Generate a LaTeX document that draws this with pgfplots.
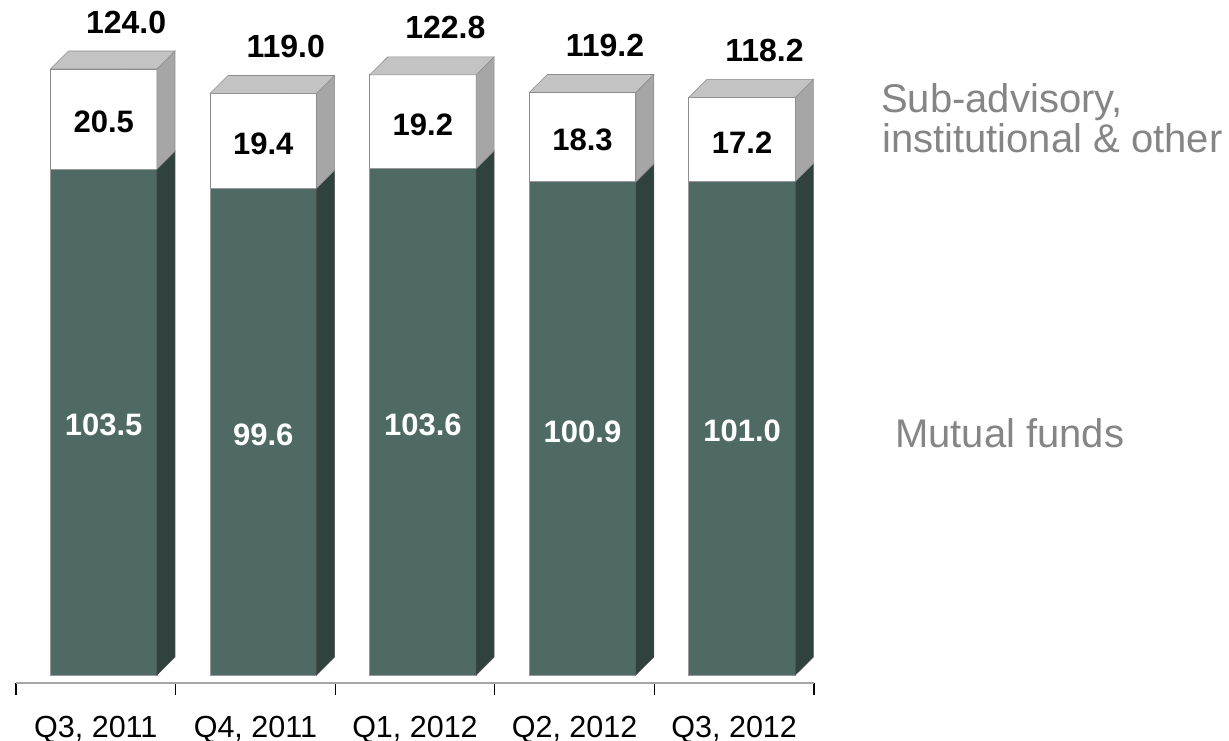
\documentclass[border=0pt]{standalone}
\usepackage{pgfplots}
\pgfplotsset{compat=1.18}
\usepackage{pgfplotstable}
\usepackage{fontspec}
\setmainfont{Liberation Sans}

\definecolor{frontgreen}{RGB}{79,106,100}
\definecolor{sidegreen}{RGB}{48,66,62}
\definecolor{topgray}{RGB}{195,195,195}
\definecolor{sidegray}{RGB}{166,166,166}
\definecolor{legendgray}{RGB}{133,133,133}

% assets under management, mutual funds (m) and sub-advisory etc. (s)
\pgfplotstableread{
x m s t
0 103.5 20.5 124.0
1 99.6 19.4 119.0
2 103.6 19.2 122.8
3 100.9 18.3 119.2
4 101.0 17.2 118.2
}\aum

\begin{document}
\begin{tikzpicture}
\begin{axis}[
  at={(16bp,58bp)}, anchor=south west,
  scale only axis, width=798bp, height=682.9bp,
  xmin=-0.5, xmax=4.5, ymin=-1.64, ymax=138.1,
  axis x line*=bottom, axis y line=none,
  axis line style={draw=black!35, line width=2bp},
  xtick={0,...,4},
  xticklabels={{Q3, 2011},{Q4, 2011},{Q1, 2012},{Q2, 2012},{Q3, 2012}},
  minor xtick={-0.5,0.5,...,4.5},
  xtick align=outside,
  major tick length=0pt, minor tick length=12bp,
  minor tick style={black, line width=1.3bp},
  xticklabel style={font=\fontsize{30.5bp}{36bp}\selectfont, anchor=base, yshift=-54bp, inner sep=0pt},
  ytick=\empty,
  clip=false,
]
% front faces
\addplot[ybar, bar width=0.667, bar shift=0.0495, fill=white, draw=black!45, line width=0.8bp] table[x=x, y=t] {\aum};
\addplot[ybar, bar width=0.667, bar shift=0.0495, fill=frontgreen, draw=black!40, line width=0.8bp] table[x=x, y=m] {\aum};

% side and top faces
\pgfplotsinvokeforeach{0,...,4}{
  \pgfplotstablegetelem{#1}{m}\of\aum \let\vm=\pgfplotsretval
  \pgfplotstablegetelem{#1}{t}\of\aum \let\vt=\pgfplotsretval
  \pgfmathsetmacro\xa{#1+0.383}
  \pgfmathsetmacro\xb{#1+0.496}
  \pgfmathsetmacro\xl{#1-0.284}
  \pgfmathsetmacro\xs{#1-0.171}
  \pgfmathsetmacro\ma{\vm+3.68}
  \pgfmathsetmacro\ta{\vt+3.68}
  \edef\faces{%
    \noexpand\addplot[fill=sidegreen, draw=black!70, line width=0.6bp] coordinates {(\xa,0) (\xb,3.68) (\xb,\ma) (\xa,\vm)} --cycle;
    \noexpand\addplot[fill=sidegray, draw=black!45, line width=0.6bp] coordinates {(\xa,\vm) (\xb,\ma) (\xb,\ta) (\xa,\vt)} --cycle;
    \noexpand\addplot[fill=topgray, draw=black!45, line width=0.6bp] coordinates {(\xl,\vt) (\xs,\ta) (\xb,\ta) (\xa,\vt)} --cycle;
  }\faces
}

% value labels
\addplot[only marks, mark=*, mark size=0pt, mark options={draw=none, fill=none},
  nodes near coords, point meta=explicit symbolic,
  nodes near coords style={anchor=center, inner sep=0pt, yshift=-3bp, text=white, font=\bfseries\fontsize{31bp}{36bp}\selectfont}]
  table[x expr=\thisrow{x}+0.0495, y expr=\thisrow{m}/2, meta=m] {\aum};
\addplot[only marks, mark=*, mark size=0pt, mark options={draw=none, fill=none},
  nodes near coords, point meta=explicit symbolic,
  nodes near coords style={anchor=center, inner sep=0pt, yshift=-3bp, text=black, font=\bfseries\fontsize{31bp}{36bp}\selectfont}]
  table[x expr=\thisrow{x}+0.0495, y expr=\thisrow{m}+\thisrow{s}/2, meta=s] {\aum};
\addplot[only marks, mark=*, mark size=0pt, mark options={draw=none, fill=none},
  nodes near coords, point meta=explicit symbolic,
  nodes near coords style={anchor=center, inner sep=0pt, yshift=47bp, text=black, font=\bfseries\fontsize{32bp}{38bp}\selectfont}]
  table[x expr=\thisrow{x}+0.19, y=t, meta=t] {\aum};
\end{axis}

\node[anchor=base west, inner sep=0pt, text=legendgray, font=\fontsize{40bp}{46bp}\selectfont] at (881bp,628bp) {Sub-advisory,};
\node[anchor=base west, inner sep=0pt, text=legendgray, font=\fontsize{40bp}{46bp}\selectfont] at (882bp,588bp) {institutional \& other};
\node[anchor=base west, inner sep=0pt, text=legendgray, font=\fontsize{40bp}{46bp}\selectfont] at (895bp,293bp) {Mutual funds};

\pgfresetboundingbox
\useasboundingbox (0,0) rectangle (1229bp,741bp);
\end{tikzpicture}
\end{document}
